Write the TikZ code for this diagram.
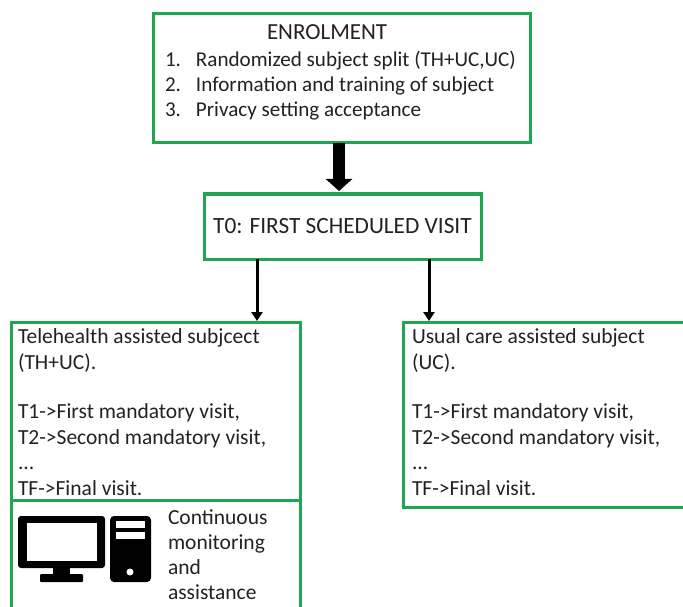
\documentclass[tikz,border=0pt]{standalone}
\usepackage{fontspec}
\setmainfont{Carlito}
\usetikzlibrary{arrows.meta}
\definecolor{boxgreen}{HTML}{1FA653}
\definecolor{ink}{HTML}{222222}
\tikzset{
  box/.style={draw=boxgreen,line width=3pt,fill=white,inner sep=0pt,outer sep=0pt,anchor=north west,text=ink,font=\fontsize{23.3}{25}\selectfont},
  label/.style={inner sep=0pt,outer sep=0pt,anchor=north west,align=left,text=ink,font=\fontsize{21.5}{25.5}\selectfont},
  bigarrow/.style={line width=12pt,-{Triangle[width=26pt,length=12pt]},black},
  thinarrow/.style={line width=3pt,-{Triangle[width=11pt,length=9pt]},black},
}
\newcommand{\fl}{\rule{0pt}{18pt}}
\newcommand{\num}[1]{\makebox[31pt][l]{#1}}
\begin{document}
\begin{tikzpicture}[x=1pt,y=-1pt]
\useasboundingbox (0,0) rectangle (683,607);
\node[box,minimum width=377pt,minimum height=129pt] (enrol) at (153,14) {};
\node[box,minimum width=277pt,minimum height=65pt] (visit) at (204,194) {T0: FIRST SCHEDULED VISIT};
\node[box,minimum width=289pt,minimum height=178pt] (tele) at (11,322) {};
\node[box,minimum width=290pt,minimum height=185pt] (usual) at (403,322) {};
\coordinate (monitorTL) at (11,500);
\coordinate (monitorBL) at (11,607);
\coordinate (monitorTR) at (300,500);
\coordinate (monitorBR) at (300,607);
\draw[draw=boxgreen,line width=3pt] (monitorTL) -- (monitorBL) (monitorTR) -- (monitorBR);
\node[label,font=\fontsize{21.1}{25}\selectfont] (enroltext) at (165,22) {\fl\hspace*{102pt}{\fontsize{23}{25}\selectfont ENROLMENT}\\[2pt]\num{1.}Randomized subject split (TH+UC,UC)\\\num{2.}Information and training of subject\\\num{3.}Privacy setting acceptance};
\node[label] (teletext) at (18,325.5) {\fl Telehealth assisted subjcect\\(TH+UC).\\[24pt]T1->First mandatory visit,\\T2->Second mandatory visit,\\...\\TF->Final visit.};
\node[label] (usualtext) at (412,325.5) {\fl Usual care assisted subject\\(UC).\\[24pt]T1->First mandatory visit,\\T2->Second mandatory visit,\\...\\TF->Final visit.};
\node[label,font=\fontsize{21.5}{25}\selectfont] (monitortext) at (168,506) {\fl Continuous\\monitoring\\and\\assistance};
% computer icon
\fill[black,rounded corners=3pt] (18,516) rectangle (105,568);
\fill[white] (27,523) rectangle (97,561);
\fill[black] (53,568) rectangle (70,575);
\fill[black,rounded corners=1pt] (40,574) rectangle (83,582);
\fill[black,rounded corners=4pt] (110,516) rectangle (151,582);
\fill[white] (116,521) rectangle (145,528);
\fill[white] (116,532) rectangle (145,539);
\fill[white] (130,572) circle (3.5);
% connectors
\coordinate (bigtop) at (339,143);
\coordinate (bigtip) at (339,191);
\coordinate (leftfrom) at (257,259);
\coordinate (leftto) at (257,321);
\coordinate (rightfrom) at (429,259);
\coordinate (rightto) at (429,321);
\draw[bigarrow] (bigtop) -- (bigtip);
\draw[thinarrow] (leftfrom) -- (leftto);
\draw[thinarrow] (rightfrom) -- (rightto);
\end{tikzpicture}
\end{document}
